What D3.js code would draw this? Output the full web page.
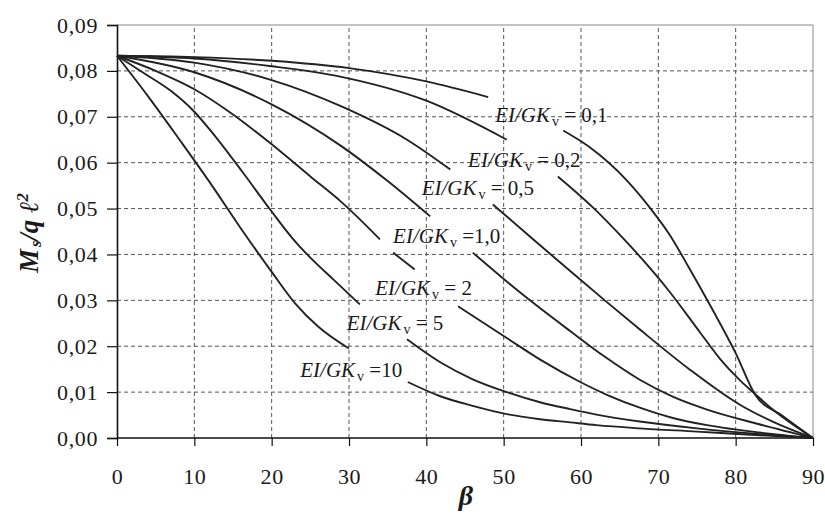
<!DOCTYPE html>
<html lang="en">
<head>
<meta charset="utf-8">
<title>Ms/ql2 against beta</title>
<script src="https://d3js.org/d3.v7.min.js"></script>
<style>
  body { margin: 0; background: #fff; }
  svg { display: block; font-family: "Liberation Serif", "Times New Roman", serif; }
</style>
</head>
<body>
<svg id="chart" width="825" height="516"></svg>
<script>
  // one curve per EI/GKv ratio, points are [beta, Ms/ql2]
  const ratioText = ["= 0,1", "= 0,2", "= 0,5", "=1,0", "= 2", "= 5", "=10"];

  const curve01 = [[0,.0833],[10,.0830],[20,.0822],[30,.0806],[40,.0777],[48,.0743],[57.7,.0670],[61,.0635],[66,.0560],[69,.0500],[71.5,.0442],[74,.0370],[77,.0280],[80,.0185],[82.5,.0095],[86,.0049],[90,0]];
  const curve02 = [[0,.0833],[10,.0827],[20,.0810],[29,.0787],[40,.0735],[50.4,.0650],[57,.0570],[61.5,.0503],[65.4,.0436],[68,.0388],[71.3,.0322],[75.4,.0230],[78,.0172],[80.6,.0125],[82.5,.0096],[84.8,.0062],[90,0]];
  const curve05 = [[0,.0833],[10,.0818],[20,.0780],[29.1,.0722],[37.5,.0650],[43.1,.0585],[48.6,.0509],[53.8,.0433],[58.6,.0364],[63,.0301],[67.5,.0238],[74,.0150],[80.6,.0072],[85,.0034],[90,0]];
  const curve1 = [[0,.0833],[10,.0797],[20,.0727],[29.1,.0635],[35,.0560],[40.5,.0483],[46,.0404],[52.5,.0312],[58.6,.0233],[63,.0178],[67.6,.0127],[72,.0089],[76.3,.0062],[82.8,.0031],[90,0]];
  const curve2 = [[0,.0833],[5,.0800],[10,.0760],[15,.0705],[20,.0640],[25,.0570],[29.1,.0513],[34,.0433],[35.7,.0404],[38.5,.0367],[44.1,.0287],[50.4,.0218],[55,.0168],[59.9,.0122],[63.5,.0093],[67.6,.0066],[72,.0043],[76.3,.0028],[83,.0012],[90,0]];
  const curve5 = [[0,.0833],[3.5,.0795],[7,.0756],[10,.0711],[12,.0672],[16.3,.0578],[19.8,.0498],[22.8,.0433],[25,.0393],[28,.0345],[31.4,.0291],[37.5,.0215],[41.8,.0165],[46,.0128],[50.4,.0100],[54.7,.0078],[58.6,.0063],[62,.0051],[67.6,.0036],[75,.0021],[82,.0010],[90,0]];
  const curve10 = [[0,.0833],[4,.0745],[8,.0652],[12,.0557],[16,.0457],[20,.0362],[23,.0294],[26,.0243],[30,.0195],[37.6,.0122],[41.8,.0091],[46,.0070],[50.4,.0052],[54.7,.0041],[58.6,.0034],[62,.0028],[67.6,.0021],[75,.0014],[82,.0007],[90,0]];

  // beta ranges where each curve is broken for its label
  const gaps = [[[48,57.7]], [[50.4,57]], [[43.1,48.6]], [[40.5,46]], [[34,35.7],[38.5,44.1]], [[31.4,37.5]], [[30,37.6]]];
  // where each label sits, in [beta, Ms/ql2]
  const labelAnchor = [[48.9,.0689],[45.4,.0591],[39.4,.0530],[35.7,.0425],[33.4,.0312],[29.7,.0235],[23.7,.0133]];

  const xTicks = [0,10,20,30,40,50,60,70,80,90];
  const yTicks = [0,.01,.02,.03,.04,.05,.06,.07,.08,.09];

  const curves = [curve01, curve02, curve05, curve1, curve2, curve5, curve10];

  const svg = d3.select("#chart");

  let x = d3.scaleLinear().domain([0, 90]).range([117, 813]);
  let y = d3.scaleLinear().domain([0, 0.09]).range([438, 25]);

  // dashed grid
  svg.append("g")
    .selectAll("line")
    .data(yTicks.slice(1, -1))
    .join("line")
    .attr("x1", x(0)).attr("x2", x(90))
    .attr("y1", d => y(d)).attr("y2", d => y(d))
    .style("stroke", "#555").style("stroke-width", 1).style("stroke-dasharray", "4,3");

  svg.append("g")
    .selectAll("line")
    .data(xTicks.slice(1, -1))
    .join("line")
    .attr("x1", d => x(d)).attr("x2", d => x(d))
    .attr("y1", y(0)).attr("y2", y(0.09))
    .style("stroke", "#555").style("stroke-width", 1).style("stroke-dasharray", "4,3");

  // frame top and right
  svg.append("path")
    .attr("d", `M${x(0)},${y(0.09)}H${x(90)}V${y(0)}`)
    .style("fill", "none").style("stroke", "#888").style("stroke-width", 1);

  let yAxis = d3.axisLeft(y)
    .tickValues(yTicks)
    .tickSize(10)
    .tickPadding(9)
    .tickFormat(d => d3.format(".2f")(d).replace(".", ","));

  let xAxis = d3.axisBottom(x)
    .tickValues(xTicks)
    .tickSize(8)
    .tickPadding(22)
    .tickFormat(d => d);

  let gy = svg.append("g").attr("transform", `translate(${x(0)},0)`).call(yAxis);
  let gx = svg.append("g").attr("transform", `translate(0,${y(0)})`).call(xAxis);

  [gx, gy].forEach(g => {
    g.select(".domain").style("stroke", "#111").style("stroke-width", 1.6);
    g.selectAll(".tick line").style("stroke", "#111").style("stroke-width", 1.2);
    g.selectAll(".tick text")
      .style("font-family", "'Liberation Serif', serif")
      .style("font-size", "22px")
      .style("letter-spacing", "0.6px")
      .style("fill", "#1a1a1a");
  });
  gx.select(".domain").attr("d", `M${x(0)},0H${x(90)}`);

  // curves, split where the labels sit
  let line = d3.line()
    .x(d => x(d[0]))
    .y(d => y(d[1]))
    .curve(d3.curveMonotoneX);

  function splitAtGaps(points, gapList) {
    let segs = [[points[0]]];
    for (let i = 1; i < points.length; i++) {
      let a = points[i - 1][0], b = points[i][0];
      if (gapList.some(g => g[0] >= a && g[1] <= b)) segs.push([]);
      segs[segs.length - 1].push(points[i]);
    }
    return segs;
  }

  curves.forEach((pts, i) => {
    svg.append("g")
      .selectAll("path")
      .data(splitAtGaps(pts, gaps[i]))
      .join("path")
      .attr("d", d => line(d))
      .style("fill", "none")
      .style("stroke", "#222")
      .style("stroke-width", 1.9)
      .style("stroke-linejoin", "round");
  });

  // curve labels
  labelAnchor.forEach((a, i) => {
    let t = svg.append("text")
      .attr("x", x(a[0]))
      .attr("y", y(a[1]))
      .style("font-size", "21px")
      .style("fill", "#1a1a1a");
    t.append("tspan").style("font-style", "italic").text("EI/GK");
    t.append("tspan").attr("dx", 2).attr("dy", 4).style("font-size", "14px").text("v");
    t.append("tspan").attr("dy", -4).text(" " + ratioText[i]);
  });

  // axis titles
  let yTitle = svg.append("text")
    .attr("transform", "translate(38,233) rotate(-90)")
    .attr("text-anchor", "middle")
    .style("font-size", "27px")
    .style("font-weight", "bold")
    .style("font-style", "italic")
    .style("fill", "#1a1a1a");
  yTitle.append("tspan").text("M");
  yTitle.append("tspan").attr("dx", 2).attr("dy", 3).style("font-size", "16px").text("s");
  yTitle.append("tspan").attr("dy", -3).text("/q ℓ");
  yTitle.append("tspan").attr("dy", -10).style("font-size", "17px").text("2");

  svg.append("text")
    .attr("x", 466)
    .attr("y", 505)
    .attr("text-anchor", "middle")
    .style("font-size", "28px")
    .style("font-weight", "bold")
    .style("font-style", "italic")
    .style("fill", "#1a1a1a")
    .text("β");
</script>
</body>
</html>
